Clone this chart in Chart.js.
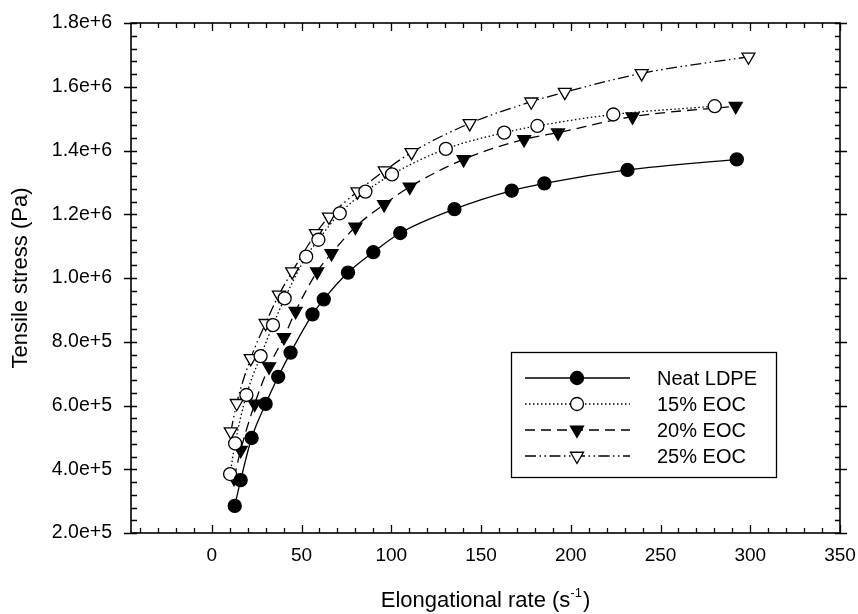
<!DOCTYPE html>
<html>
<head>
<meta charset="utf-8">
<script src="https://cdn.jsdelivr.net/npm/chart.js@4.4.1/dist/chart.umd.min.js"></script>
<style>
  html, body { margin: 0; padding: 0; background: #fff; }
  #wrap { width: 858px; height: 614px; }
</style>
</head>
<body>
<div id="wrap"><canvas id="chart" width="858" height="614"></canvas></div>
<script>
const FONT = "'Liberation Sans', Arial, Helvetica, sans-serif";

// elongational rate (1/s) and tensile stress (Pa) per blend
const NEAT_X = [12.8, 16.1, 22.2, 30.0, 37.0, 43.9, 56.1, 62.4, 75.9, 90.0, 105.0, 135.2, 167.1, 185.3, 231.6, 292.5];
const NEAT_Y = [2.85e5, 3.66e5, 4.98e5, 6.05e5, 6.90e5, 7.66e5, 8.86e5, 9.33e5, 1.017e6, 1.081e6, 1.141e6, 1.216e6, 1.274e6, 1.297e6, 1.339e6, 1.372e6];

const EOC15_X = [10.2, 13.0, 19.3, 27.2, 34.1, 40.6, 52.6, 59.4, 71.3, 85.6, 100.4, 130.4, 162.9, 181.4, 223.7, 280.2];
const EOC15_Y = [3.85e5, 4.81e5, 6.33e5, 7.55e5, 8.52e5, 9.36e5, 1.067e6, 1.12e6, 1.203e6, 1.271e6, 1.325e6, 1.405e6, 1.456e6, 1.477e6, 1.513e6, 1.539e6];

const EOC20_X = [12.4, 16.1, 23.9, 31.9, 40.2, 46.7, 58.7, 66.7, 80.0, 96.0, 110.3, 140.3, 174.0, 192.9, 234.4, 291.9];
const EOC20_Y = [3.72e5, 4.60e5, 6.05e5, 7.22e5, 8.14e5, 8.96e5, 1.02e6, 1.077e6, 1.16e6, 1.231e6, 1.286e6, 1.372e6, 1.435e6, 1.456e6, 1.506e6, 1.539e6];

const EOC25_X = [10.6, 13.9, 21.7, 30.0, 37.4, 44.8, 58.0, 65.3, 81.2, 96.4, 111.3, 143.7, 178.0, 196.7, 239.5, 299.0];
const EOC25_Y = [5.18e5, 6.07e5, 7.48e5, 8.58e5, 9.47e5, 1.02e6, 1.14e6, 1.192e6, 1.271e6, 1.337e6, 1.394e6, 1.485e6, 1.553e6, 1.583e6, 1.642e6, 1.694e6];

const SERIES_NAMES = ["Neat LDPE", "15% EOC", "20% EOC", "25% EOC"];

const X_TICKS = [0, 50, 100, 150, 200, 250, 300, 350];
const Y_TICKS = [2e5, 4e5, 6e5, 8e5, 1e6, 1.2e6, 1.4e6, 1.6e6, 1.8e6];
const X_MINOR = 10;
const Y_MINOR = 4e4;

function pts(xs, ys) {
  return xs.map((x, i) => ({ x, y: ys[i] }));
}

function series(label, data, style) {
  return Object.assign({
    label,
    data,
    borderColor: "#000",
    borderWidth: 1.3,
    pointBorderColor: "#000",
    pointBorderWidth: 1.3,
    cubicInterpolationMode: "monotone",
    fill: false,
  }, style);
}

const datasets = [
  series(SERIES_NAMES[0], pts(NEAT_X, NEAT_Y), {
    borderDash: [], pointStyle: "circle", pointRadius: 6.5, pointRotation: 0,
    pointBackgroundColor: "#000",
  }),
  series(SERIES_NAMES[1], pts(EOC15_X, EOC15_Y), {
    borderDash: [1.5, 2.5], pointStyle: "circle", pointRadius: 6.5, pointRotation: 0,
    pointBackgroundColor: "#fff",
  }),
  series(SERIES_NAMES[2], pts(EOC20_X, EOC20_Y), {
    borderDash: [10, 6], pointStyle: "triangle", pointRadius: 7.5, pointRotation: 180,
    pointBackgroundColor: "#000",
  }),
  series(SERIES_NAMES[3], pts(EOC25_X, EOC25_Y), {
    borderDash: [11, 3.5, 1.5, 3.5, 1.5, 3.5], pointStyle: "triangle", pointRadius: 7.5, pointRotation: 180,
    pointBackgroundColor: "#fff",
  }),
];

// keep the plot box fixed: no extra room for label overhang
function noOverhang(s) {
  s.paddingTop = 0;
  s.paddingBottom = 0;
  s.paddingLeft = 0;
  s.paddingRight = 0;
}

// frame box plus inward tick marks on all four sides
const frameTicks = {
  id: "frameTicks",
  afterDraw(chart) {
    const { ctx, chartArea: a, scales: { x, y } } = chart;
    ctx.save();
    ctx.strokeStyle = "#000";
    ctx.lineWidth = 1.6;
    ctx.strokeRect(a.left, a.top, a.right - a.left, a.bottom - a.top);
    ctx.lineWidth = 1.3;
    ctx.beginPath();
    for (let v = Math.ceil(x.min / X_MINOR) * X_MINOR; v <= x.max; v += X_MINOR) {
      const px = Math.round(x.getPixelForValue(v)) + 0.5;
      const len = v % 50 === 0 ? 8 : 5;
      ctx.moveTo(px, a.bottom); ctx.lineTo(px, a.bottom - len);
      ctx.moveTo(px, a.top); ctx.lineTo(px, a.top + len);
    }
    for (let v = y.min; v <= y.max + 1; v += Y_MINOR) {
      const py = Math.round(y.getPixelForValue(v)) + 0.5;
      const major = Math.abs(v / 2e5 - Math.round(v / 2e5)) < 1e-6;
      ctx.moveTo(a.left - (major ? 7 : 0), py); ctx.lineTo(a.left + 6, py);
      ctx.moveTo(a.right + (major ? 7 : 0), py); ctx.lineTo(a.right - 5, py);
    }
    ctx.stroke();
    ctx.restore();
  },
};

// x title with superscript exponent
const xTitle = {
  id: "xTitle",
  afterDraw(chart) {
    const { ctx, chartArea: a } = chart;
    const base = "Elongational rate (s";
    const sup = "-1";
    const tail = ")";
    ctx.save();
    ctx.fillStyle = "#000";
    ctx.textBaseline = "alphabetic";
    ctx.font = "22px " + FONT;
    const wBase = ctx.measureText(base).width;
    const wTail = ctx.measureText(tail).width;
    ctx.font = "13px " + FONT;
    const wSup = ctx.measureText(sup).width;
    const total = wBase + wSup + wTail + 1;
    let cx = (a.left + a.right) / 2 - total / 2;
    const by = 607;
    ctx.font = "22px " + FONT;
    ctx.fillText(base, cx, by);
    cx += wBase;
    ctx.font = "13px " + FONT;
    ctx.fillText(sup, cx, by - 10);
    cx += wSup + 1;
    ctx.font = "22px " + FONT;
    ctx.fillText(tail, cx, by);
    ctx.restore();
  },
};

// boxed legend inside the plot, samples built from dataset styles
const boxLegend = {
  id: "boxLegend",
  afterDraw(chart) {
    const { ctx } = chart;
    const box = { x: 511, y: 352, w: 265, h: 125 };
    const rowY = [378, 404, 430, 456];
    ctx.save();
    ctx.strokeStyle = "#000";
    ctx.lineWidth = 1.3;
    ctx.strokeRect(box.x + 0.5, box.y + 0.5, box.w, box.h);
    chart.data.datasets.forEach((ds, i) => {
      const yy = rowY[i];
      ctx.save();
      ctx.strokeStyle = ds.borderColor;
      ctx.lineWidth = ds.borderWidth;
      ctx.setLineDash(ds.borderDash);
      ctx.beginPath();
      ctx.moveTo(525, yy);
      ctx.lineTo(630, yy);
      ctx.stroke();
      ctx.setLineDash([]);
      ctx.fillStyle = ds.pointBackgroundColor;
      ctx.strokeStyle = ds.pointBorderColor;
      ctx.lineWidth = ds.pointBorderWidth;
      Chart.helpers.drawPoint(ctx, {
        pointStyle: ds.pointStyle,
        rotation: ds.pointRotation,
        radius: ds.pointRadius,
        borderWidth: ds.pointBorderWidth,
      }, 577, yy);
      ctx.restore();
      ctx.fillStyle = "#000";
      ctx.font = "20px " + FONT;
      ctx.textBaseline = "middle";
      ctx.fillText(ds.label, 657, yy + 1);
    });
    ctx.restore();
  },
};

new Chart(document.getElementById("chart"), {
  type: "line",
  data: { datasets },
  options: {
    responsive: false,
    animation: false,
    devicePixelRatio: 1,
    layout: { padding: { top: 23, right: 18, left: 0, bottom: 0 } },
    plugins: { legend: { display: false }, tooltip: { enabled: false } },
    scales: {
      x: {
        type: "linear",
        min: -45,
        max: 350,
        afterBuildTicks: (s) => { s.ticks = X_TICKS.map((v) => ({ value: v })); },
        afterFit: (s) => { s.height = 81; noOverhang(s); },
        grid: { display: false, drawTicks: false },
        border: { display: false },
        ticks: {
          color: "#000",
          font: { family: FONT, size: 19 },
          padding: 11,
          maxRotation: 0,
          autoSkip: false,
        },
      },
      y: {
        type: "linear",
        min: 2e5,
        max: 1.8e6,
        afterBuildTicks: (s) => { s.ticks = Y_TICKS.map((v) => ({ value: v })); },
        afterFit: (s) => { s.width = 131; noOverhang(s); },
        grid: { display: false, drawTicks: false },
        border: { display: false },
        ticks: {
          color: "#000",
          font: { family: FONT, size: 19.5 },
          padding: 19,
          autoSkip: false,
          callback: (v) => Number(v).toExponential(1),
        },
        title: {
          display: true,
          text: "Tensile stress (Pa)",
          color: "#000",
          font: { family: FONT, size: 22 },
          padding: { top: 8, bottom: 0 },
        },
      },
    },
  },
  plugins: [frameTicks, xTitle, boxLegend],
});
</script>
</body>
</html>
